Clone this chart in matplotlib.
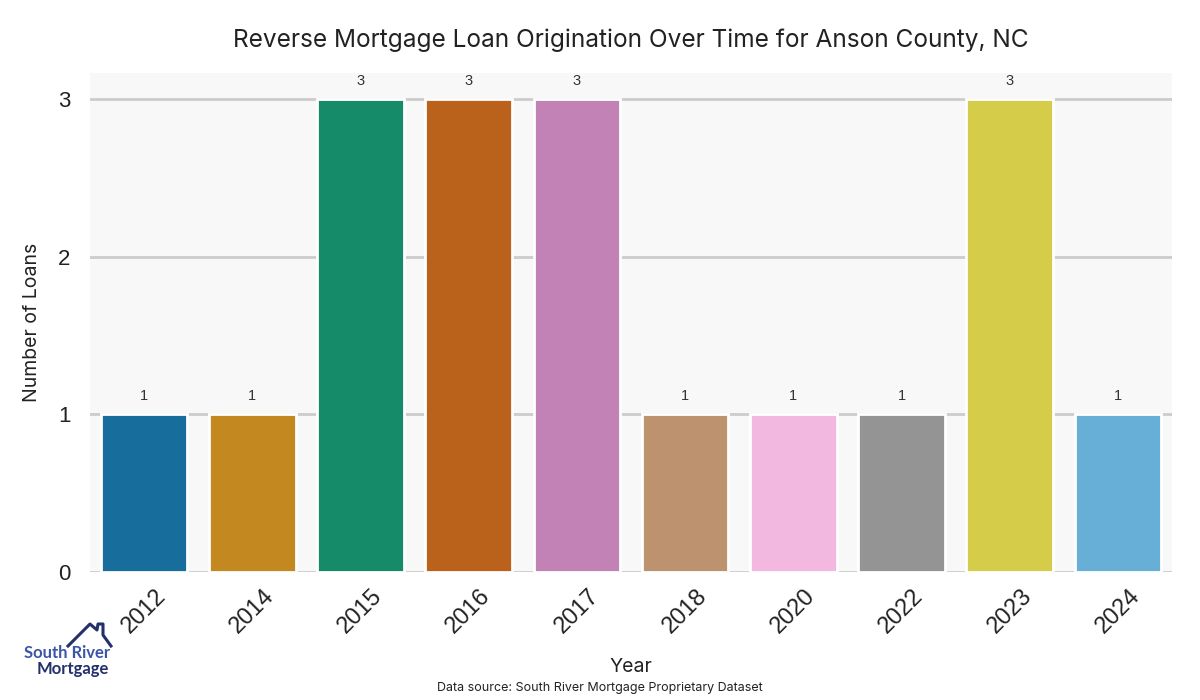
import matplotlib
matplotlib.use("Agg")
import matplotlib.pyplot as plt
from matplotlib.lines import Line2D
import seaborn as sns

# datos
years = ["2012", "2014", "2015", "2016", "2017", "2018", "2020", "2022", "2023", "2024"]
loans = [1, 1, 3, 3, 3, 1, 1, 1, 3, 1]

title = "Reverse Mortgage Loan Origination Over Time for Anson County, NC"
source = "Data source: South River Mortgage Proprietary Dataset"

# paleta colorblind con saturacion 0.75 (como seaborn barplot)
colors = [sns.desaturate(c, 0.75) for c in sns.color_palette("colorblind", len(years))]

fig = plt.figure(figsize=(12, 7), dpi=100)
ax = fig.add_axes([0.075, 0.183, 0.9017, 0.7127])
ax.set_facecolor("#f8f8f8")

x = list(range(len(years)))
bars = ax.bar(x, loans, width=0.8, color=colors, edgecolor="white", linewidth=2, zorder=3)

for b, v in zip(bars, loans):
    ax.annotate(str(v), (b.get_x() + b.get_width() / 2, v), xytext=(0, 8),
                textcoords="offset points", ha="center", va="bottom",
                fontsize=10.5, color="#333333", family="Liberation Sans")

ax.set_xlim(-0.5, len(years) - 0.5)
ax.set_ylim(0, 3.165)
ax.set_yticks([0, 1, 2, 3])
ax.set_xticks(x)
ax.set_xticklabels(years, rotation=45, fontsize=17, family="Liberation Sans", color="#222222")
ax.tick_params(axis="y", labelsize=16, colors="#222222", length=0, pad=14)
ax.tick_params(axis="x", length=0, pad=9)
for lbl in ax.get_yticklabels():
    lbl.set_family("Liberation Sans")

ax.grid(axis="y", color="#cccccc", linewidth=2, zorder=0)
ax.grid(axis="x", visible=False)
for s in ax.spines.values():
    s.set_visible(False)

ax.set_xlabel("Year", fontsize=14, family="Inter", color="#222222", labelpad=15)
ax.set_ylabel("Number of Loans", fontsize=14, family="Inter", color="#222222", labelpad=12)
fig.text(0.526, 0.943, title, ha="center", va="center", fontsize=17.6, family="Inter", color="#222222")
fig.text(0.5, 0.017, source, ha="center", va="center", fontsize=9, family="Inter", color="#222222")

# logo South River Mortgage
navy = "#23306a"
roof_x = [68, 90, 97, 98, 103, 103, 111]
roof_y = [646, 624, 630, 624, 624, 635, 646]
fig.add_artist(Line2D([v / 1200 for v in roof_x], [1 - v / 700 for v in roof_y],
                      color=navy, linewidth=2.2, transform=fig.transFigure))
fig.text(67 / 1200, 1 - 653 / 700, "South River", ha="center", va="center",
         fontsize=12, fontweight="bold", color="#3d55a8", family="Lato")
fig.text(73 / 1200, 1 - 669 / 700, "Mortgage", ha="center", va="center",
         fontsize=12, fontweight="bold", color=navy, family="Lato")

fig.savefig("out.png", dpi=100)
